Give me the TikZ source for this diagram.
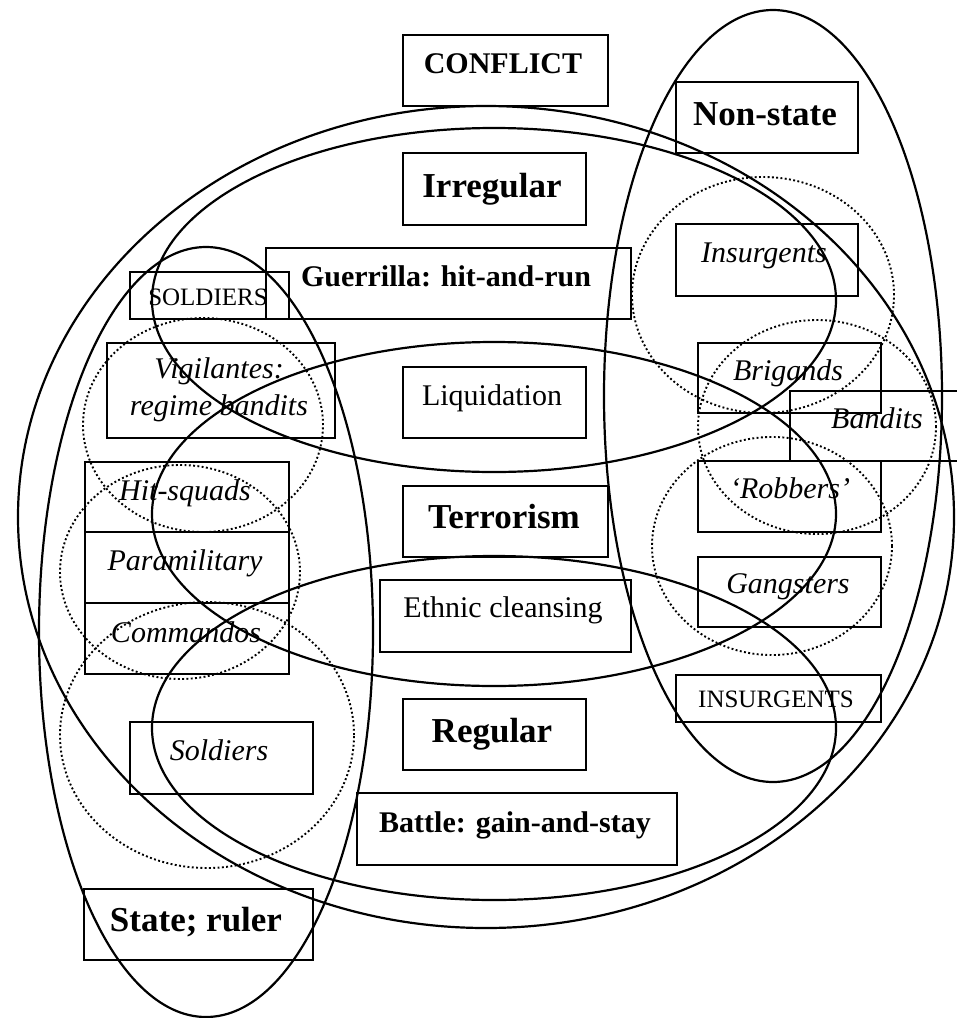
\documentclass[tikz,border=0pt]{standalone}
\usepackage{fontspec}
\setmainfont{Liberation Serif}
\tikzset{
  box/.style={line width=2.2pt},
  ring/.style={line width=2.2pt},
  dotring/.style={line width=1.9pt, dash pattern=on 1.9pt off 2.4pt},
  lab/.style={anchor=base, inner sep=0pt, font=\fontsize{30}{36}\selectfont},
  labit/.style={lab, font=\fontsize{30}{36}\selectfont\itshape},
  labbf/.style={lab, font=\fontsize{30}{36}\selectfont\bfseries},
  labBF/.style={lab, font=\fontsize{35}{42}\selectfont\bfseries},
  labcap/.style={lab, font=\fontsize{25}{30}\selectfont},
}

\begin{document}
\begin{tikzpicture}[x=1pt,y=-1pt]
		%%%%% START %%%%%
		\useasboundingbox (0,0) rectangle (957,1018);
		
		% dotted groups
		\draw[dotring] (203,425) ellipse (120pt and 107pt);
		\draw[dotring] (180,572) ellipse (120pt and 107pt);
		\draw[dotring] (207,735) ellipse (147pt and 133pt);
		\draw[dotring] (763,295) ellipse (131pt and 118pt);
		\draw[dotring] (817,427) ellipse (119pt and 107pt);
		\draw[dotring] (772,546) ellipse (120pt and 109pt);
		
		% sets
		\draw[ring] (486,517) ellipse (468pt and 411pt);
		\draw[ring] (494,300) ellipse (342pt and 172pt);
		\draw[ring] (494,514) ellipse (342pt and 172pt);
		\draw[ring] (494,728) ellipse (342pt and 172pt);
		\draw[ring] (773,396) ellipse (169pt and 386pt);
		\draw[ring] (206,632) ellipse (167pt and 385pt);
		
		% boxes
		\draw[box] (403,35) rectangle (608,106);
		\draw[box] (676,82) rectangle (858,153);
		\draw[box] (403,153) rectangle (586,225);
		\draw[box] (266,248) rectangle (631,319);
		\draw[box] (130,272) rectangle (289,319);
		\draw[box] (676,224) rectangle (858,296);
		\draw[box] (107,343) rectangle (335,438);
		\draw[box] (403,367) rectangle (586,438);
		\draw[box] (698,343) rectangle (881,413);
		\draw[box] (957,391) -- (790,391) -- (790,461) -- (957,461);
		\draw[box] (85,462) rectangle (289,532);
		\draw[box] (698,461) rectangle (881,532);
		\draw[box] (403,486) rectangle (608,557);
		\draw[box] (85,532) rectangle (289,603);
		\draw[box] (698,557) rectangle (881,627);
		\draw[box] (380,580) rectangle (631,652);
		\draw[box] (85,603) rectangle (289,674);
		\draw[box] (676,675) rectangle (881,722);
		\draw[box] (403,699) rectangle (586,770);
		\draw[box] (130,722) rectangle (313,794);
		\draw[box] (357,793) rectangle (677,865);
		\draw[box] (84,889) rectangle (313,960);
		
		% labels
		\node[labbf] (conflict) at (503,73) {CONFLICT};
		\node[labBF] (nonstate) at (765,125) {Non-state};
		\node[labBF] (irregular) at (492,197) {Irregular};
		\node[labbf] (guerrilla) at (446,286) {Guerrilla: hit-and-run};
		\node[labcap] (soldiersup) at (208,305) {SOLDIERS};
		\node[labit] (insurgents) at (764,262) {Insurgents};
		\node[labit] (vigilantes) at (219,378) {Vigilantes:};
		\node[labit] (regimeband) at (219,415) {regime bandits};
		\node[lab] (liquidation) at (492,405) {Liquidation};
		\node[labit] (brigands) at (788,380) {Brigands};
		\node[labit] (bandits) at (877,428) {Bandits};
		\node[labit] (hitsquads) at (185,500) {Hit-squads};
		\node[labit] (robbers) at (790,498) {‘Robbers’};
		\node[labBF] (terrorism) at (504,528) {Terrorism};
		\node[labit] (paramil) at (185,570) {Paramilitary};
		\node[labit] (gangsters) at (788,593) {Gangsters};
		\node[lab] (ethnic) at (503,617) {Ethnic cleansing};
		\node[labit] (commandos) at (186,642) {Commandos};
		\node[labcap] (insurgentsup) at (776,707) {INSURGENTS};
		\node[labBF] (regular) at (492,742) {Regular};
		\node[labit] (soldiers) at (219,760) {Soldiers};
		\node[labbf] (battle) at (515,832) {Battle: gain-and-stay};
		\node[labBF] (state) at (196,931) {State; ruler};
		%%%%% END %%%%%
\end{tikzpicture}
\end{document}
